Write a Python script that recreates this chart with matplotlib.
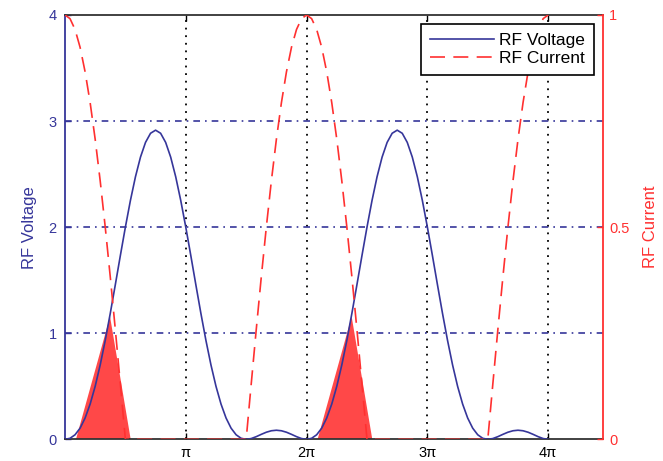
import numpy as np
import matplotlib
matplotlib.use("Agg")
import matplotlib.pyplot as plt

plt.rcParams['font.family'] = ['Liberation Sans', 'DejaVu Sans']

# phase samples in degrees (0 .. 4*pi), 7.5 degree spacing
theta_deg = list(np.arange(0, 720.01, 7.5))

rf_voltage = [
    0, .0097, .0429, .1052, .2010, .3324, .5, .7016, .9330, 1.1877, 1.4571, 1.7317,
    2.0, 2.2514, 2.4747, 2.6602, 2.7990, 2.8850, 2.9142, 2.8850, 2.7990, 2.6602, 2.4747, 2.2514,
    2.0, 1.7317, 1.4571, 1.1877, .9330, .7016, .5, .3324, .2010, .1052, .0429, .0097,
    0, .0074, .0252, .0470, .0670, .0808, .0858, .0808, .0670, .0470, .0252, .0074,
    0, .0097, .0429, .1052, .2010, .3324, .5, .7016, .9330, 1.1877, 1.4571, 1.7317,
    2.0, 2.2514, 2.4747, 2.6602, 2.7990, 2.8850, 2.9142, 2.8850, 2.7990, 2.6602, 2.4747, 2.2514,
    2.0, 1.7317, 1.4571, 1.1877, .9330, .7016, .5, .3324, .2010, .1052, .0429, .0097,
    0, .0074, .0252, .0470, .0670, .0808, .0858, .0808, .0670, .0470, .0252, .0074,
    0,
]

rf_current = [
    1, .9914, .9659, .9239, .8660, .7934, .7071, .6088, .5, .3827, .2588, .1305,
    0, 0, 0, 0, 0, 0, 0, 0, 0, 0, 0, 0,
    0, 0, 0, 0, 0, 0, 0, 0, 0, 0, 0, 0,
    0, .1305, .2588, .3827, .5, .6088, .7071, .7934, .8660, .9239, .9659, .9914,
    1, .9914, .9659, .9239, .8660, .7934, .7071, .6088, .5, .3827, .2588, .1305,
    0, 0, 0, 0, 0, 0, 0, 0, 0, 0, 0, 0,
    0, 0, 0, 0, 0, 0, 0, 0, 0, 0, 0, 0,
    0, .1305, .2588, .3827, .5, .6088, .7071, .7934, .8660, .9239, .9659, .9914,
    1,
]

# red filled triangles (x in radians, y in voltage units)
tri1_x = [0.286, 1.172, 1.709]
tri1_y = [0, 1.157, 0]
tri2_x = [6.569, 7.455, 7.992]
tri2_y = [0, 1.157, 0]

xtick_vals = [np.pi, 2 * np.pi, 3 * np.pi, 4 * np.pi]
xtick_labels = ['π', '2π', '3π', '4π']
left_ticks = [0, 1, 2, 3, 4]
right_ticks = [0, 0.5, 1]
right_tick_labels = ['0', '0.5', '1']

BLUE = '#36369a'
RED = '#ff3030'
FILL = '#ff4848'

x = np.deg2rad(theta_deg)

fig = plt.figure(figsize=(6.63, 4.61), dpi=100)
ax1 = fig.add_axes([0.098, 0.047, 0.812, 0.9205])
ax2 = ax1.twinx()

ax1.fill(tri1_x, tri1_y, color=FILL, lw=0, zorder=2)
ax1.fill(tri2_x, tri2_y, color=FILL, lw=0, zorder=2)
l1, = ax1.plot(x, rf_voltage, color=BLUE, lw=1.2, zorder=3, label='RF Voltage')
l2, = ax2.plot(x, rf_current, color=RED, lw=1.2, dashes=(9, 5), label='RF Current')

ax1.set_xlim(0, 14)
ax1.set_ylim(0, 4)
ax2.set_ylim(0, 1)

ax1.set_xticks(xtick_vals)
ax1.set_xticklabels(xtick_labels, fontsize=10.5)
ax1.set_yticks(left_ticks)
ax1.set_yticklabels([str(t) for t in left_ticks], fontsize=10.5)
ax2.set_yticks(right_ticks)
ax2.set_yticklabels(right_tick_labels, fontsize=10.5)

ax1.tick_params(axis='x', direction='in', top=True, length=4, width=1, colors='black', pad=5)
ax1.tick_params(axis='y', direction='in', length=4, width=1, colors=BLUE, pad=6)
ax2.tick_params(axis='y', direction='in', length=4, width=1, colors=RED, pad=4)

# grids
for xv in xtick_vals:
    ax1.axvline(xv, color='black', lw=1.3, dashes=(1, 3.2), zorder=1)
for yv in [1, 2, 3]:
    ax1.axhline(yv, color=BLUE, lw=1.2, dashes=(4, 3, 1, 3), zorder=1)

ax1.spines['left'].set_color(BLUE)
for s in ['top', 'bottom']:
    ax1.spines[s].set_color('#333333')
ax1.spines['right'].set_visible(False)
for s in ['left', 'top', 'bottom']:
    ax2.spines[s].set_visible(False)
ax2.spines['right'].set_color(RED)
for sp in list(ax1.spines.values()) + list(ax2.spines.values()):
    sp.set_linewidth(1.3)

ax1.set_ylabel('RF Voltage', color=BLUE, fontsize=12, labelpad=8)
ax2.set_ylabel('RF Current', color=RED, fontsize=12, labelpad=10)

leg = ax2.legend([l1, l2], ['RF Voltage', 'RF Current'], loc='upper right',
                 bbox_to_anchor=(0.9825, 0.978), borderaxespad=0, fancybox=False,
                 framealpha=1, edgecolor='black', fontsize=12.5, handlelength=3.7,
                 borderpad=0.5, labelspacing=0.15, handletextpad=0.3)
leg.get_frame().set_linewidth(1.2)

fig.savefig('out.png', dpi=100)
